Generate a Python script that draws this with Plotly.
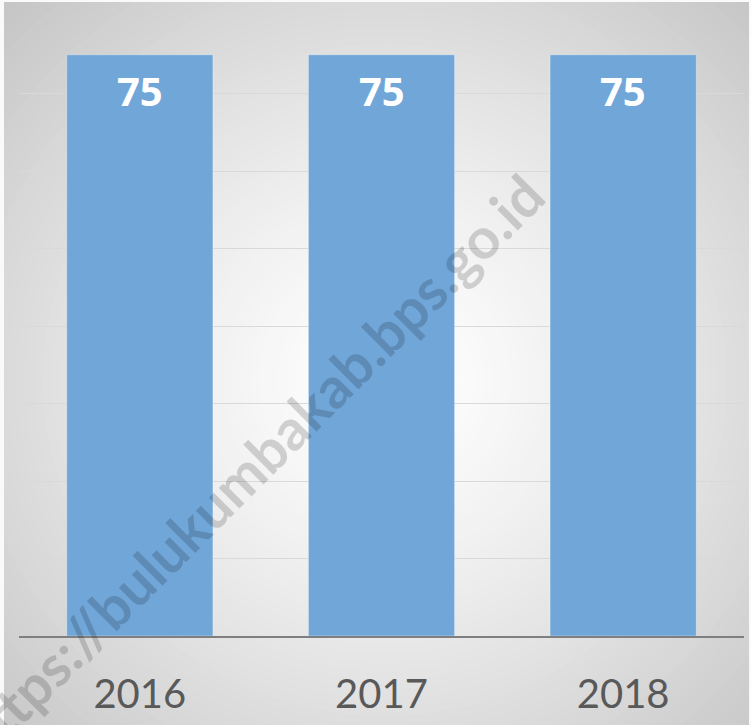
import plotly.graph_objects as go

# ---- data ----
years = ["2016", "2017", "2018"]
values = [75, 75, 75]
watermark = "https://bulukumbakab.bps.go.id"

W, H = 751, 725
ML, MR, MT, MB = 19, 7, 16, 89
PW, PH = W - ML - MR, H - MT - MB

def px2paper(px, py):
    return (px - ML) / PW, 1 - (py - MT) / PH

# ---- radial gradient background with concentric ellipses ----
def gray(r):
    r = min(max(r, 0.0), 1.0)
    v = int(round(255 - 58 * r ** 1.3))
    return f"rgb({v},{v},{v})"

shapes = []
CX, CY, RX, RY = 385.0, 380.0, 540.0, 530.0
N = 60
for k in range(N):
    r = 1.0 - k / N
    x0, y0 = px2paper(CX - RX * r, CY - RY * r)
    x1, y1 = px2paper(CX + RX * r, CY + RY * r)
    shapes.append(dict(type="circle", xref="paper", yref="paper",
                       x0=x0, x1=x1, y0=y1, y1=y0, layer="below",
                       fillcolor=gray(r - 0.5 / N), line=dict(width=0)))
for (ax0, ay0, ax1, ay1) in [(0, 0, 4, H), (0, 0, W, 2), (W - 2, 0, W, H)]:
    x0, y0 = px2paper(ax0, ay0)
    x1, y1 = px2paper(ax1, ay1)
    shapes.append(dict(type="rect", xref="paper", yref="paper",
                       x0=x0, x1=x1, y0=y1, y1=y0, layer="below",
                       fillcolor="rgb(250,250,250)", line=dict(width=0)))

fig = go.Figure()
fig.add_trace(go.Bar(
    x=years, y=values,
    marker=dict(color="rgb(112,166,216)", line=dict(color="rgba(255,255,255,0.35)", width=1)),
    hoverinfo="skip",
))

annotations = []
for i, v in enumerate(values):
    annotations.append(dict(
        x=i, y=v, xref="x", yref="y", text=str(v), showarrow=False,
        yshift=-36, font=dict(family="Open Sans", size=40, color="white", weight="bold"),
    ))

wx, wy = px2paper(251, 466)
annotations.append(dict(
    x=wx, y=wy, xref="paper", yref="paper", text=watermark, showarrow=False,
    textangle=-45, xanchor="center", yanchor="middle",
    font=dict(family="Lato", size=57, color="rgba(0,0,0,0.16)", weight="bold"),
))

fig.update_layout(
    width=W, height=H,
    margin=dict(l=ML, r=MR, t=MT, b=MB, autoexpand=False),
    paper_bgcolor=gray(1.0),
    plot_bgcolor="rgba(0,0,0,0)",
    bargap=0.395,
    showlegend=False,
    annotations=annotations,
    shapes=shapes,
    xaxis=dict(
        type="category", automargin=False, range=[-0.5, 2.5],
        showgrid=False, showline=True, linecolor="#7f7f7f", linewidth=1.5,
        ticks="outside", ticklen=22, tickcolor="rgba(0,0,0,0)",
        tickfont=dict(family="Lato", size=40, color="#595959"),
        fixedrange=True,
    ),
    yaxis=dict(
        range=[0, 80], dtick=10, showgrid=True, gridcolor="#d9d9d9", gridwidth=1,
        showticklabels=False, zeroline=False, fixedrange=True, automargin=False,
    ),
)

fig.write_html("out.html", config={"displayModeBar": False},
               post_script="document.body.style.margin='0px';document.body.style.overflow='hidden';")
